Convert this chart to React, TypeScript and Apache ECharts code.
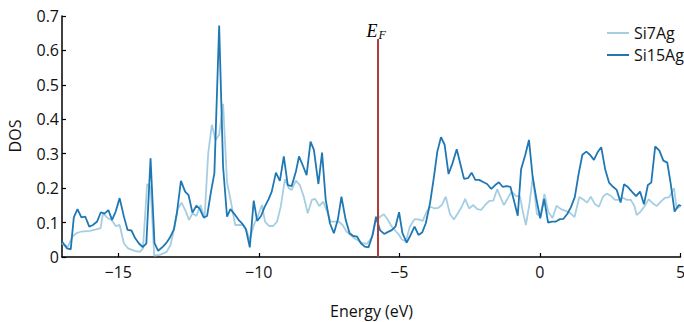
import React, { useEffect, useRef } from "react";
import * as echarts from "echarts";

const energySi7Ag = [
  -17.0, -16.94, -16.79, -16.63, -16.49, -16.31, -16.01, -15.78, -15.63, -15.54,
  -15.36, -15.24, -15.09, -14.95, -14.8, -14.65, -14.41, -14.23, -14.12, -13.97,
  -13.85, -13.72, -13.52, -13.28, -13.14, -13.02, -12.88, -12.75, -12.62, -12.48,
  -12.36, -12.22, -12.07, -11.93, -11.8, -11.67, -11.54, -11.41, -11.27, -11.13,
  -10.99, -10.84, -10.7, -10.56, -10.44, -10.32, -10.18, -10.04, -9.89, -9.78,
  -9.63, -9.49, -9.35, -9.22, -9.07, -8.93, -8.83, -8.68, -8.54, -8.4,
  -8.26, -8.11, -8.0, -7.85, -7.71, -7.57, -7.45, -7.31, -7.16, -7.02,
  -6.88, -6.74, -6.59, -6.45, -6.31, -6.15, -6.0, -5.85, -5.69, -5.55,
  -5.41, -5.27, -5.12, -5.01, -4.91, -4.77, -4.63, -4.46, -4.32, -4.17,
  -4.03, -3.89, -3.75, -3.61, -3.49, -3.35, -3.2, -3.06, -2.92, -2.78,
  -2.66, -2.52, -2.37, -2.23, -2.09, -1.95, -1.8, -1.66, -1.52, -1.39,
  -1.28, -1.14, -1.01, -0.85, -0.71, -0.62, -0.5, -0.37, -0.25, -0.11,
  0.02, 0.16, 0.3, 0.45, 0.59, 0.75, 0.91, 1.07, 1.23, 1.4,
  1.54, 1.68, 1.81, 1.96, 2.1, 2.24, 2.38, 2.53, 2.67, 2.81,
  2.95, 3.09, 3.23, 3.36, 3.44, 3.58, 3.73, 3.87, 4.01, 4.15,
  4.3, 4.45, 4.6, 4.77, 4.86, 4.98,
];
const dosSi7Ag = [
  0.04, 0.035, 0.03, 0.059, 0.069, 0.074, 0.076, 0.08, 0.084, 0.127,
  0.112, 0.108, 0.09, 0.093, 0.04, 0.025, 0.018, 0.015, 0.025, 0.212,
  0.205, 0.004, 0.006, 0.015, 0.035, 0.078, 0.14, 0.158, 0.137, 0.108,
  0.127, 0.119, 0.151, 0.112, 0.301, 0.384, 0.34, 0.355, 0.445, 0.217,
  0.16, 0.093, 0.093, 0.093, 0.078, 0.049, 0.093, 0.117, 0.151, 0.103,
  0.09, 0.09, 0.103, 0.146, 0.226, 0.2, 0.195, 0.222, 0.209, 0.175,
  0.127, 0.166, 0.169, 0.148, 0.161, 0.132, 0.103, 0.103, 0.103, 0.093,
  0.074, 0.064, 0.054, 0.047, 0.04, 0.038, 0.054, 0.1, 0.117, 0.124,
  0.108, 0.088, 0.074, 0.064, 0.051, 0.045, 0.088, 0.11, 0.109, 0.105,
  0.132, 0.146, 0.141, 0.143, 0.151, 0.175, 0.125, 0.109, 0.127, 0.146,
  0.169, 0.141, 0.151, 0.139, 0.137, 0.151, 0.163, 0.164, 0.197, 0.171,
  0.151, 0.171, 0.19, 0.177, 0.177, 0.137, 0.093, 0.156, 0.235, 0.125,
  0.118, 0.183, 0.13, 0.113, 0.149, 0.139, 0.134, 0.128, 0.116, 0.174,
  0.167, 0.158, 0.175, 0.153, 0.146, 0.175, 0.184, 0.177, 0.166, 0.166,
  0.172, 0.166, 0.166, 0.148, 0.122, 0.132, 0.148, 0.168, 0.156, 0.148,
  0.161, 0.172, 0.174, 0.2, 0.141, 0.146,
];

const energySi15Ag = [
  -17.0, -16.82, -16.69, -16.58, -16.45, -16.31, -16.17, -16.03, -15.9, -15.75,
  -15.62, -15.49, -15.35, -15.22, -15.09, -14.95, -14.8, -14.67, -14.53, -14.4,
  -14.27, -14.13, -14.0, -13.85, -13.71, -13.58, -13.41, -13.28, -13.17, -13.02,
  -12.91, -12.77, -12.62, -12.5, -12.36, -12.22, -12.1, -11.96, -11.84, -11.7,
  -11.58, -11.41, -11.27, -11.13, -11.01, -10.86, -10.72, -10.58, -10.46, -10.32,
  -10.18, -10.06, -9.92, -9.8, -9.65, -9.54, -9.39, -9.25, -9.11, -8.97,
  -8.83, -8.68, -8.57, -8.43, -8.3, -8.16, -8.04, -7.88, -7.75, -7.62,
  -7.47, -7.33, -7.19, -7.06, -6.91, -6.77, -6.64, -6.5, -6.37, -6.23,
  -6.1, -5.95, -5.83, -5.69, -5.54, -5.4, -5.27, -5.14, -5.01, -4.89,
  -4.74, -4.6, -4.46, -4.32, -4.19, -4.06, -3.91, -3.77, -3.65, -3.52,
  -3.39, -3.25, -3.11, -2.96, -2.83, -2.7, -2.56, -2.43, -2.3, -2.16,
  -2.02, -1.88, -1.73, -1.59, -1.46, -1.33, -1.19, -1.05, -0.9, -0.79,
  -0.67, -0.52, -0.39, -0.26, -0.12, 0.01, 0.15, 0.29, 0.43, 0.57,
  0.71, 0.84, 0.97, 1.1, 1.24, 1.38, 1.51, 1.65, 1.78, 1.92,
  2.05, 2.18, 2.32, 2.46, 2.6, 2.73, 2.87, 2.99, 3.13, 3.27,
  3.42, 3.56, 3.7, 3.84, 3.96, 4.1, 4.25, 4.39, 4.53, 4.65,
  4.79, 4.94, 5.02,
];
const dosSi15Ag = [
  0.045, 0.025, 0.022, 0.115, 0.139, 0.115, 0.117, 0.088, 0.093, 0.103,
  0.13, 0.126, 0.136, 0.108, 0.132, 0.171, 0.118, 0.079, 0.077, 0.055,
  0.04, 0.029, 0.039, 0.287, 0.04, 0.018, 0.03, 0.042, 0.055, 0.08,
  0.13, 0.221, 0.19, 0.18, 0.129, 0.149, 0.14, 0.115, 0.119, 0.19,
  0.243, 0.672, 0.262, 0.117, 0.139, 0.124, 0.108, 0.096, 0.081, 0.028,
  0.164, 0.105, 0.119, 0.144, 0.168, 0.19, 0.245, 0.221, 0.292, 0.209,
  0.206, 0.248, 0.292, 0.265, 0.238, 0.335, 0.311, 0.212, 0.303, 0.166,
  0.098, 0.069, 0.108, 0.175, 0.108, 0.069, 0.061, 0.059, 0.04, 0.03,
  0.028, 0.064, 0.117, 0.078, 0.067, 0.073, 0.078, 0.088, 0.13, 0.069,
  0.042, 0.064, 0.088, 0.064, 0.071, 0.098, 0.156, 0.233, 0.306, 0.348,
  0.326, 0.241, 0.272, 0.313, 0.27, 0.227, 0.229, 0.245, 0.224, 0.224,
  0.218, 0.212, 0.198, 0.209, 0.217, 0.204, 0.206, 0.204, 0.156, 0.12,
  0.255, 0.297, 0.34, 0.233, 0.166, 0.112, 0.169, 0.1, 0.103, 0.103,
  0.11, 0.111, 0.125, 0.144, 0.174, 0.243, 0.297, 0.306, 0.297, 0.282,
  0.304, 0.319, 0.255, 0.216, 0.204, 0.195, 0.158, 0.211, 0.203, 0.19,
  0.177, 0.19, 0.153, 0.209, 0.216, 0.321, 0.309, 0.28, 0.274, 0.214,
  0.132, 0.151, 0.148,
];

const seriesNames = ["Si7Ag", "Si15Ag"];
const fermiEnergy = -5.76;
const fermiLineTop = 0.633;
const xTickValues = [-15, -10, -5, 0, 5];
const xRange = [-17, 5];
const yRange = [0, 0.7];
const yInterval = 0.1;

const FONT = "'Open Sans', 'Noto Sans', sans-serif";
const TEXT = "#111";

export default function App() {
  const ref = useRef<HTMLDivElement>(null);

  useEffect(() => {
    if (!ref.current) return;
    const chart = echarts.init(ref.current, null, { renderer: "svg" });
    const option: any = {
      animation: false,
      backgroundColor: "#fff",
      grid: { left: 62, right: 3.5, top: 16, bottom: 65, containLabel: false, outerBoundsMode: "none" },
      legend: {
        orient: "vertical",
        left: 607,
        top: 25,
        padding: 0,
        itemWidth: 22,
        itemHeight: 2,
        itemGap: 6,
        icon: "rect",
        data: seriesNames,
        textStyle: { fontFamily: FONT, fontSize: 16, color: TEXT, lineHeight: 16 },
      },
      xAxis: {
        type: "value",
        min: xRange[0],
        max: xRange[1],
        splitLine: { show: false },
        axisLine: { show: true, onZero: false, lineStyle: { color: "#000", width: 1.5 } },
        axisTick: { show: true, inside: true, length: 4, customValues: xTickValues, lineStyle: { color: "#000", width: 1.2 } },
        axisLabel: {
          customValues: xTickValues,
          margin: 7,
          fontFamily: FONT,
          fontSize: 16,
          color: TEXT,
          formatter: (v: number) => (v < 0 ? "\u2212" + Math.abs(v) : String(v)),
        },
      },
      yAxis: {
        type: "value",
        min: yRange[0],
        max: yRange[1],
        interval: yInterval,
        splitLine: { show: false },
        axisLine: { show: true, onZero: false, lineStyle: { color: "#000", width: 1.5 } },
        axisTick: { show: true, inside: true, length: 4, lineStyle: { color: "#000", width: 1.2 } },
        axisLabel: {
          margin: 3,
          fontFamily: FONT,
          fontSize: 16,
          color: TEXT,
          formatter: (v: number) => (Math.abs(v) < 1e-9 ? "0" : v.toFixed(1)),
        },
      },
      series: [
        {
          name: seriesNames[0],
          type: "line",
          symbol: "none",
          color: "#a6cee3",
          lineStyle: { width: 1.8, color: "#a6cee3" },
          data: energySi7Ag.map((e, i) => [e, dosSi7Ag[i]]),
          z: 2,
        },
        {
          name: seriesNames[1],
          type: "line",
          symbol: "none",
          color: "#1f78b4",
          lineStyle: { width: 1.8, color: "#1f78b4" },
          data: energySi15Ag.map((e, i) => [e, dosSi15Ag[i]]),
          z: 3,
          markLine: {
            silent: true,
            symbol: "none",
            animation: false,
            label: { show: false },
            lineStyle: { color: "#b03c3c", width: 2, type: "solid" },
            data: [[{ coord: [fermiEnergy, 0] }, { coord: [fermiEnergy, fermiLineTop] }]],
          },
        },
      ],
    };
    chart.setOption(option);

    const [px, py] = chart.convertToPixel({ gridIndex: 0 }, [fermiEnergy, fermiLineTop]) as number[];
    chart.setOption({
      graphic: [
        {
          type: "text",
          x: px - 11.5,
          y: py - 8,
          style: {
            text: "E",
            fontFamily: "'Liberation Serif', 'DejaVu Serif', serif",
            fontStyle: "italic",
            fontSize: 18,
            fill: "#000",
            align: "left",
            verticalAlign: "middle",
          },
        },
        {
          type: "text",
          x: px + 0.5,
          y: py - 4.5,
          style: {
            text: "F",
            fontFamily: "'Liberation Serif', 'DejaVu Serif', serif",
            fontStyle: "italic",
            fontSize: 12,
            fill: "#000",
            align: "left",
            verticalAlign: "middle",
          },
        },
        {
          type: "text",
          x: 15,
          y: 136,
          rotation: Math.PI / 2,
          style: {
            text: "DOS",
            fontFamily: FONT,
            fontSize: 16,
            fill: TEXT,
            align: "center",
            verticalAlign: "middle",
          },
        },
        {
          type: "text",
          x: 371.5,
          y: 311,
          style: {
            text: "Energy (eV)",
            fontFamily: FONT,
            fontSize: 16,
            fill: TEXT,
            align: "center",
            verticalAlign: "middle",
          },
        },
      ],
    });

    return () => chart.dispose();
  }, []);

  return (
    <div
      ref={ref}
      style={{ position: "absolute", left: 0, top: 0, width: 684, height: 322 }}
    />
  );
}
